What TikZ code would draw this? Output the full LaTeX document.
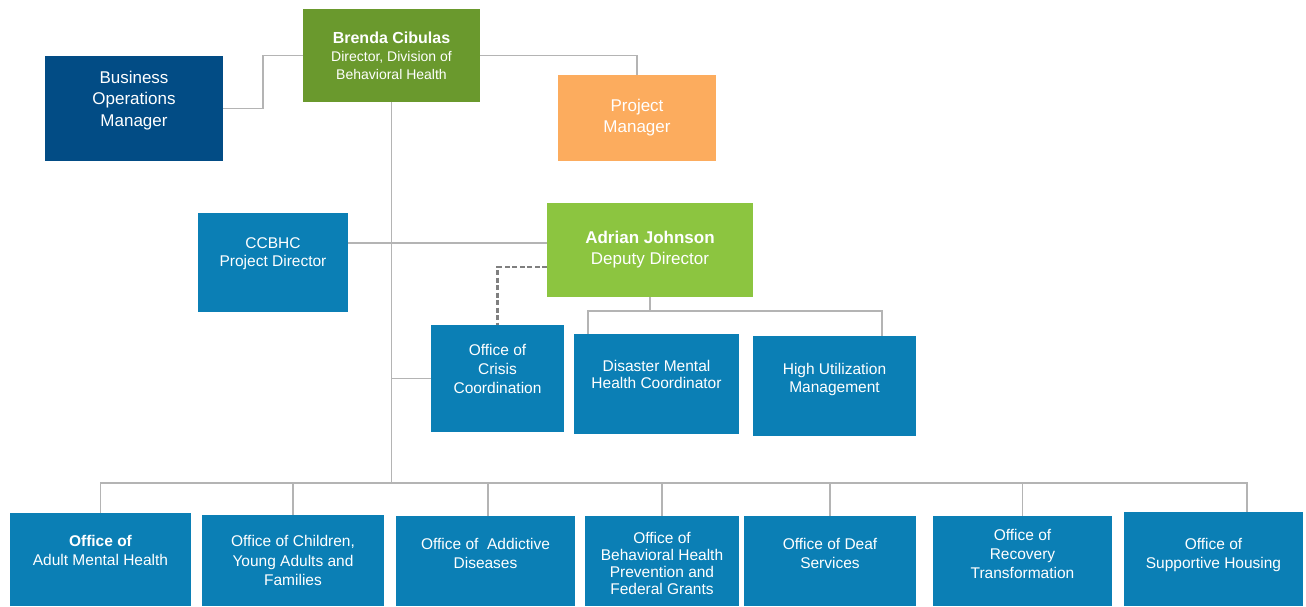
\documentclass[tikz,border=0pt]{standalone}
\usepackage{fontspec}
\setmainfont{Liberation Sans}
\usepackage{xcolor}
\usepackage{tikz}
\usetikzlibrary{positioning}
\definecolor{officeblue}{HTML}{0B7FB5}
\definecolor{bizblue}{HTML}{024C85}
\definecolor{brendagreen}{HTML}{6A992D}
\definecolor{adriangreen}{HTML}{8CC540}
\definecolor{pmorange}{HTML}{FCAC5E}
\definecolor{linegray}{HTML}{B4B4B4}
\definecolor{dashgray}{HTML}{7F7F7F}
\tikzset{
% Boxes of the chart
orgbox/.style={rectangle, inner sep=0, outer sep=0, text=white, align=center},
office/.style={orgbox, fill=officeblue},
officetext/.style={text=white, align=center, inner sep=0, font=\fontsize{15.5}{19}\selectfont},
% Connectors
conn/.style={draw=linegray, line width=1.2pt},
dashconn/.style={draw=dashgray, line width=2.6pt, dash pattern=on 5pt off 2.5pt}
}
\begin{document}
\begin{tikzpicture}[x=1pt, y=-1pt]
  \useasboundingbox (0,0) rectangle (1306,606);

  % top row
  \node[orgbox, fill=brendagreen, minimum width=177, minimum height=93,
    font=\fontsize{14}{18}\selectfont] (brenda) at (391.5,55.5)
    {\textbf{\fontsize{16}{18}\selectfont Brenda Cibulas}\\Director, Division of\\Behavioral Health};
  \node[orgbox, fill=bizblue, minimum width=178, minimum height=105] (bizops) at (134,108.5) {};
  \node[officetext, font=\fontsize{17}{21.5}\selectfont] (bizops-text) at ([yshift=8]bizops.center) {Business\\Operations\\Manager};
  \node[orgbox, fill=pmorange, minimum width=158, minimum height=86,
    font=\fontsize{17}{21}\selectfont] (projmgr) at (637,118) {Project\\Manager};

  % middle row
  \node[office, minimum width=150, minimum height=99] (ccbhc) at (273,262.5) {};
  \node[officetext, font=\fontsize{15.5}{18}\selectfont] (ccbhc-text) at ([yshift=8.5]ccbhc.center) {CCBHC\\Project Director};
  \node[orgbox, fill=adriangreen, minimum width=206, minimum height=94,
    font=\fontsize{17}{21}\selectfont] (adrian) at (650,250) {\textbf{Adrian Johnson}\\Deputy Director};

  \node[office, minimum width=133, minimum height=107] (crisis) at (497.5,378.5) {};
  \node[officetext] (crisis-text) at ([yshift=9.5]crisis.center) {Office of\\Crisis\\Coordination};
  \node[office, minimum width=165, minimum height=100] (disaster) at (656.5,384) {};
  \node[officetext, font=\fontsize{15.5}{17}\selectfont] (disaster-text) at ([yshift=9.5]disaster.center) {Disaster Mental\\Health Coordinator};
  \node[office, minimum width=163, minimum height=100] (highutil) at (834.5,386) {};
  \node[officetext, font=\fontsize{15.5}{18}\selectfont] (highutil-text) at ([yshift=7]highutil.center) {High Utilization\\Management};

  % bottom row
  \node[office, minimum width=181, minimum height=93] (adult) at (100.5,559.5) {};
  \node[officetext] (adult-text) at ([yshift=9]adult.center) {\textbf{Office of}\\Adult Mental Health};
  \node[office, minimum width=182, minimum height=91] (children) at (293,560.5) {};
  \node[officetext, font=\fontsize{15.5}{19.5}\selectfont] (children-text) at (children.center) {Office of Children,\\Young Adults and\\Families};
  \node[office, minimum width=179, minimum height=90] (addictive) at (485.5,561) {};
  \node[officetext] (addictive-text) at ([yshift=8]addictive.center) {Office of\ \ Addictive\\Diseases};
  \node[office, minimum width=154, minimum height=90] (bhprev) at (662,561) {};
  \node[officetext, font=\fontsize{15.5}{17}\selectfont] (bhprev-text) at ([yshift=-2]bhprev.center) {Office of\\Behavioral Health\\Prevention and\\Federal Grants};
  \node[office, minimum width=172, minimum height=90] (deaf) at (830,561) {};
  \node[officetext] (deaf-text) at ([yshift=7.5]deaf.center) {Office of Deaf\\Services};
  \node[office, minimum width=179, minimum height=90] (recovery) at (1022.5,561) {};
  \node[officetext] (recovery-text) at ([yshift=7]recovery.center) {Office of\\Recovery\\Transformation};
  \node[office, minimum width=179, minimum height=94] (supportive) at (1213.5,559) {};
  \node[officetext] (supportive-text) at ([yshift=4]supportive.center) {Office of\\Supportive Housing};

  % connectors
  \coordinate (bus) at (391.5,483);
  \draw[conn] (brenda.west) -- ++(-40,0) |- (bizops.east);
  \draw[conn] (brenda.east) -| (projmgr.north);
  \draw[conn] (brenda.south) -- (bus);
  \draw[conn] ([yshift=7]adrian.west) -- ([yshift=7]adrian.west -| ccbhc.east);
  \draw[conn] (crisis.west) -- (crisis.west -| bus);
  \draw[conn] (adrian.south) -- ++(0,14) coordinate (split);
  \draw[conn] ([xshift=14]disaster.north west) |- (split) -| ([xshift=-34]highutil.north east);
  \draw[dashconn] ([yshift=-17]adrian.west) -| (crisis.north);

  \draw[conn] (adult.north) -- (adult.north |- bus) -- ([xshift=33.5]supportive.north |- bus) -- ([xshift=33.5]supportive.north);
  \draw[conn] (children.north) -- (children.north |- bus);
  \draw[conn] ([xshift=2.5]addictive.north) -- ([xshift=2.5]addictive.north |- bus);
  \draw[conn] (bhprev.north) -- (bhprev.north |- bus);
  \draw[conn] (deaf.north) -- (deaf.north |- bus);
  \draw[conn] (recovery.north) -- (recovery.north |- bus);
\end{tikzpicture}
\end{document}
